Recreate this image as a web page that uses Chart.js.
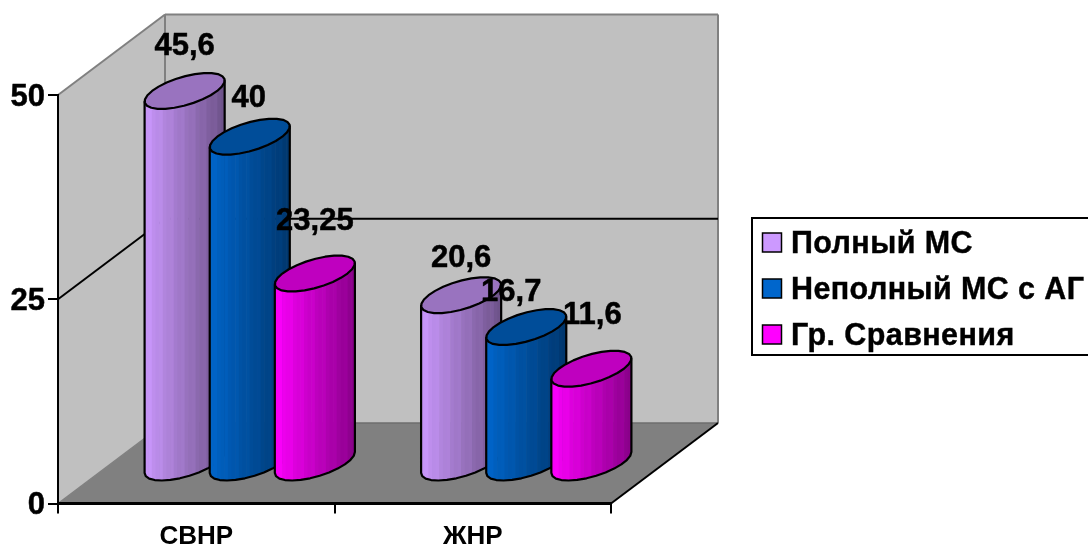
<!DOCTYPE html>
<html>
<head>
<meta charset="utf-8">
<title>СВНР и ЖНР</title>
<script src="https://cdn.jsdelivr.net/npm/chart.js@4"></script>
<style>
  html, body { margin: 0; padding: 0; background: #fff; overflow: hidden; }
  canvas { display: block; }
</style>
</head>
<body>
<canvas id="cyl-chart" width="1088" height="546"></canvas>
<script>
const categories = ['СВНР', 'ЖНР'];
const fullMs = [45.6, 20.6];
const partialMs = [40, 16.7];
const controlGroup = [23.25, 11.6];
const seriesNames = ['Полный МС', 'Неполный МС с АГ', 'Гр. Сравнения'];
const yTicks = [0, 25, 50];

const FONT = '"Liberation Sans", Arial, sans-serif';
const palette = [
    { base: [204, 153, 255], rim: '#CC99FF' },
    { base: [0, 102, 204], rim: '#0066CC' },
    { base: [255, 0, 255], rim: '#FF00FF' }
];

// oblique projection of the plot box: how far the back wall sits from the front plane
const DEPTH = { x: 107, y: -80.5 };
const WALL = '#C0C0C0';
const FLOOR = '#808080';
const EDGE = '#808080';

// cylinders stand halfway into the box
const MID = { x: 53.5, y: -40 };
const RADIUS_DEPTH = { x: 23.3, y: -18 };
const FACETS = 26;
const STRIPS = 22;

// hand placed label offsets, [dx, dy] from the centre of the cap, per series and category
const labelShift = [
    [[0, -44], [0, -37]],
    [[-1, -38], [-15, -35]],
    [[0, -52], [1, -53]]
];

function shade(rgb, k) {
    return 'rgb(' + rgb.map(c => Math.round(c * k)).join(',') + ')';
}

function ringPoint(cx, cy, halfW, t) {
    return {
        x: cx + halfW * Math.cos(t) + RADIUS_DEPTH.x * Math.sin(t),
        y: cy + RADIUS_DEPTH.y * Math.sin(t)
    };
}

function drawCylinder(ctx, bar, color) {
    const cx = bar.x + MID.x;
    const topY = bar.y + MID.y;
    const baseY = bar.base + MID.y;
    const halfW = bar.width / 2;
    const t0 = Math.atan2(RADIUS_DEPTH.x, halfW);
    const reach = Math.hypot(halfW, RADIUS_DEPTH.x);

    // side surface: left silhouette, lower half of the base, right silhouette
    const body = new Path2D();
    const topLeft = ringPoint(cx, topY, halfW, t0 + Math.PI);
    body.moveTo(topLeft.x, topLeft.y);
    for (let i = 0; i <= FACETS / 2; i++) {
        const p = ringPoint(cx, baseY, halfW, t0 + Math.PI + i * 2 * Math.PI / FACETS);
        body.lineTo(p.x, p.y);
    }
    const topRight = ringPoint(cx, topY, halfW, t0);
    body.lineTo(topRight.x, topRight.y);
    body.closePath();

    ctx.save();
    ctx.clip(body);
    const stripW = 2 * reach / STRIPS;
    for (let i = 0; i < STRIPS; i++) {
        const k = 0.97 - 0.43 * i / (STRIPS - 1);
        // every so often a facet catches a little more light
        const glint = i % 3 === 1 ? 0.025 : 0;
        ctx.fillStyle = shade(color.base, k + glint);
        ctx.fillRect(cx - reach + i * stripW, topY - 40, stripW + 0.6, baseY - topY + 80);
    }
    ctx.restore();
    ctx.lineWidth = 2.2;
    ctx.lineJoin = 'round';
    ctx.strokeStyle = '#000';
    ctx.stroke(body);

    // cap
    ctx.beginPath();
    for (let i = 0; i < FACETS; i++) {
        const p = ringPoint(cx, topY, halfW, i * 2 * Math.PI / FACETS);
        if (i === 0) ctx.moveTo(p.x, p.y); else ctx.lineTo(p.x, p.y);
    }
    ctx.closePath();
    ctx.fillStyle = shade(color.base, 0.75);
    ctx.fill();
    ctx.stroke();
}

function line(ctx, x1, y1, x2, y2, color, width) {
    ctx.beginPath();
    ctx.moveTo(x1, y1);
    ctx.lineTo(x2, y2);
    ctx.strokeStyle = color;
    ctx.lineWidth = width;
    ctx.stroke();
}

// walls and floor of the 3D box, built from the scales
const boxPlugin = {
    id: 'box',
    beforeDraw(chart) {
        const { ctx, scales: { x, y } } = chart;
        const left = x.left, right = x.right;
        const y0 = y.getPixelForValue(yTicks[0]);
        const yTop = y.getPixelForValue(yTicks[yTicks.length - 1]);
        const yMid = y.getPixelForValue(yTicks[1]);
        const bx = DEPTH.x, by = DEPTH.y;

        ctx.save();
        ctx.fillStyle = WALL;
        ctx.fillRect(left + bx, yTop + by, right - left, y0 - yTop);
        ctx.beginPath();
        ctx.moveTo(left, y0);
        ctx.lineTo(left, yTop);
        ctx.lineTo(left + bx, yTop + by);
        ctx.lineTo(left + bx, y0 + by);
        ctx.closePath();
        ctx.fill();

        ctx.fillStyle = FLOOR;
        ctx.beginPath();
        ctx.moveTo(left, y0);
        ctx.lineTo(left + bx, y0 + by);
        ctx.lineTo(right + bx, y0 + by);
        ctx.lineTo(right, y0);
        ctx.closePath();
        ctx.fill();

        // grey box edges
        line(ctx, left, yTop, left + bx, yTop + by, EDGE, 2);
        line(ctx, left + bx, yTop + by, right + bx, yTop + by, EDGE, 2);
        line(ctx, left + bx, yTop + by, left + bx, y0 + by, EDGE, 2);
        line(ctx, right + bx, yTop + by, right + bx, y0 + by, EDGE, 2);
        line(ctx, left, y0, left + bx, y0 + by, EDGE, 1.5);
        line(ctx, left + bx, y0 + by, right + bx, y0 + by, '#6e6e6e', 1.5);

        // middle gridline running along the side wall and the back wall
        line(ctx, left, yMid, left + bx, yMid + by, '#000', 2);
        line(ctx, left + bx, yMid + by, right + bx, yMid + by, '#000', 2);

        // floor edge on the right
        line(ctx, right, y0, right + bx, y0 + by, '#000', 2);
        ctx.restore();
    }
};

const cylinderPlugin = {
    id: 'cylinders',
    // the flat bars are replaced by the cylinders below
    beforeDatasetDraw() {
        return false;
    },
    afterDatasetsDraw(chart) {
        const { ctx } = chart;
        ctx.save();
        categories.forEach((_, c) => {
            chart.data.datasets.forEach((ds, s) => {
                drawCylinder(ctx, chart.getDatasetMeta(s).data[c], palette[s]);
            });
        });

        ctx.fillStyle = '#000';
        ctx.strokeStyle = '#000';
        ctx.lineWidth = 0.5;
        ctx.font = 'bold 31px ' + FONT;
        ctx.textAlign = 'center';
        ctx.textBaseline = 'middle';
        chart.data.datasets.forEach((ds, s) => {
            ds.data.forEach((v, c) => {
                const bar = chart.getDatasetMeta(s).data[c];
                const shift = labelShift[s][c];
                const text = String(v).replace('.', ',');
                const lx = bar.x + MID.x + shift[0];
                const ly = bar.y + MID.y + shift[1];
                ctx.fillText(text, lx, ly);
                ctx.strokeText(text, lx, ly);
            });
        });
        ctx.restore();
    }
};

// boxed legend, runs off the right side of the canvas
const legendPlugin = {
    id: 'boxLegend',
    afterDraw(chart) {
        const { ctx } = chart;
        ctx.save();
        ctx.fillStyle = '#fff';
        ctx.fillRect(752, 218, 340, 137);
        ctx.strokeStyle = '#000';
        ctx.lineWidth = 2;
        ctx.strokeRect(752, 218, 340, 137);

        ctx.font = 'bold 30.5px ' + FONT;
        ctx.letterSpacing = '0.4px';
        ctx.textBaseline = 'middle';
        ctx.textAlign = 'left';
        seriesNames.forEach((name, i) => {
            const cy = 243 + i * 46;
            ctx.fillStyle = palette[i].rim;
            ctx.fillRect(762.5, cy - 10, 19, 19);
            ctx.lineWidth = 1.5;
            ctx.strokeStyle = '#000';
            ctx.strokeRect(762.5, cy - 10, 19, 19);
            ctx.fillStyle = '#000';
            ctx.fillText(name, 791, cy + 2);
            ctx.lineWidth = 0.4;
            ctx.strokeText(name, 791, cy + 2);
        });
        ctx.restore();
    }
};

const config = {
    type: 'bar',
    data: {
        labels: categories,
        datasets: [
            { label: seriesNames[0], data: fullMs, backgroundColor: palette[0].rim },
            { label: seriesNames[1], data: partialMs, backgroundColor: palette[1].rim },
            { label: seriesNames[2], data: controlGroup, backgroundColor: palette[2].rim }
        ]
    },
    options: {
        responsive: false,
        animation: false,
        layout: { padding: { top: 95, right: 477, left: 0, bottom: 0 } },
        datasets: { bar: { barPercentage: 1, categoryPercentage: 0.7065 } },
        plugins: { legend: { display: false }, tooltip: { enabled: false } },
        scales: {
            x: {
                afterFit(scale) { scale.height = 42.5; },
                border: { color: '#000', width: 3 },
                grid: { drawOnChartArea: false, color: '#000', lineWidth: 2, tickLength: 10 },
                ticks: {
                    color: '#000',
                    maxRotation: 0,
                    padding: 8,
                    font: { family: FONT, size: 26, weight: 'bold' }
                }
            },
            y: {
                min: 0,
                max: 50,
                afterFit(scale) { scale.width = 58; },
                afterBuildTicks(scale) { scale.ticks = yTicks.map(v => ({ value: v })); },
                border: { color: '#000', width: 2 },
                grid: { drawOnChartArea: false, color: '#000', lineWidth: 2, tickLength: 10 },
                ticks: {
                    color: '#000',
                    padding: 3,
                    labelOffset: 2,
                    textStrokeColor: '#000',
                    textStrokeWidth: 0.5,
                    font: { family: FONT, size: 31, weight: 'bold' }
                }
            }
        }
    },
    plugins: [boxPlugin, cylinderPlugin, legendPlugin]
};

const ctx = document.getElementById('cyl-chart').getContext('2d');
const myChart = new Chart(ctx, config);
</script>
</body>
</html>
